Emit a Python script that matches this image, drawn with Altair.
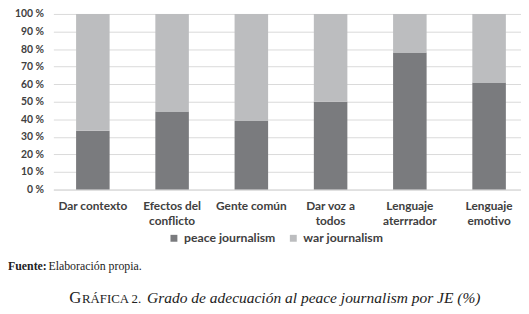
import altair as alt
import pandas as pd

# ---- data ----
categories = ["Dar contexto", "Efectos del\nconflicto", "Gente común",
              "Dar voz a\ntodos", "Lenguaje\naterrrador", "Lenguaje\nemotivo"]
series = ["peace journalism", "war journalism"]
peace_values = [33.5, 44.5, 39.0, 50.0, 78.0, 61.0]
war_values = [66.5, 55.5, 61.0, 50.0, 22.0, 39.0]
y_ticks = [0, 10, 20, 30, 40, 50, 60, 70, 80, 90, 100]

rows = []
for c, p, w in zip(categories, peace_values, war_values):
    rows.append({"cat": c, "serie": series[0], "value": p, "ord": 0})
    rows.append({"cat": c, "serie": series[1], "value": w, "ord": 1})
df = pd.DataFrame(rows)

DARK = "#7a7b7e"
LIGHT = "#bcbdbf"
GRID = "#d9d9d9"
TXT = "#404040"

W, H = 474, 178

bars = alt.Chart(df).mark_bar().encode(
    x=alt.X("cat:N", sort=categories,
            scale=alt.Scale(paddingInner=0.577, paddingOuter=0.2388, align=0.6),
            axis=alt.Axis(title=None, labelAngle=0,
                          labelExpr="split(datum.label, '\\n')",
                          ticks=False, domain=True, domainColor=GRID,
                          labelFont="Lato", labelFontWeight="bold",
                          labelFontSize=12, labelColor=TXT, labelPadding=11,
                          labelLineHeight=15.5, labelOverlap=False, labelBound=False)),
    y=alt.Y("value:Q", stack="zero",
            scale=alt.Scale(domain=[0, 100], nice=False),
            axis=alt.Axis(title=None, values=y_ticks,
                          labelExpr="datum.value + ' %'",
                          grid=True, gridColor=GRID, domain=False, ticks=False,
                          labelFont="Lato", labelFontWeight="bold",
                          labelFontSize=10.5, labelColor=TXT, labelPadding=10)),
    color=alt.Color("serie:N",
                    scale=alt.Scale(domain=series, range=[DARK, LIGHT]),
                    legend=alt.Legend(orient="none", legendX=116, legendY=221,
                                      direction="horizontal", title=None,
                                      symbolType="square", symbolSize=49,
                                      symbolStrokeWidth=0, padding=0,
                                      labelFont="Lato", labelFontWeight="bold",
                                      labelFontSize=12.4, labelColor=TXT,
                                      labelOffset=4, columnPadding=11)),
    order=alt.Order("ord:Q", sort="ascending"),
)

notes = pd.DataFrame({"t": ["x"]})

def txt(text, x, y, size, style="normal", weight="normal", align="left",
        font="Liberation Serif", color="#222222"):
    return alt.Chart(notes).mark_text(
        text=text, font=font, fontSize=size, fontStyle=style, fontWeight=weight,
        align=align, baseline="alphabetic", color=color
    ).encode(x=alt.value(x), y=alt.value(y))

fuente1 = txt("Fuente:", -46, 259.5, 12, weight="bold")
fuente2 = txt("Elaboración propia.", -5, 259.5, 12)
title_g = txt("G", 16, 293, 17)
title_r = txt("RÁFICA 2.", 29, 293, 13)
title_i = txt("Grado de adecuación al peace journalism por JE (%)", 95, 293, 15.7,
              style="italic")

chart = alt.layer(bars, fuente1, fuente2, title_g, title_r, title_i).properties(
    width=W, height=H,
    autosize=alt.AutoSizeParams(type="none"),
    padding={"left": 46, "top": 4, "right": 0, "bottom": 116},
    background="white",
).configure_view(stroke=None)

chart.save("out.html", embed_options={"renderer": "svg", "actions": False})
